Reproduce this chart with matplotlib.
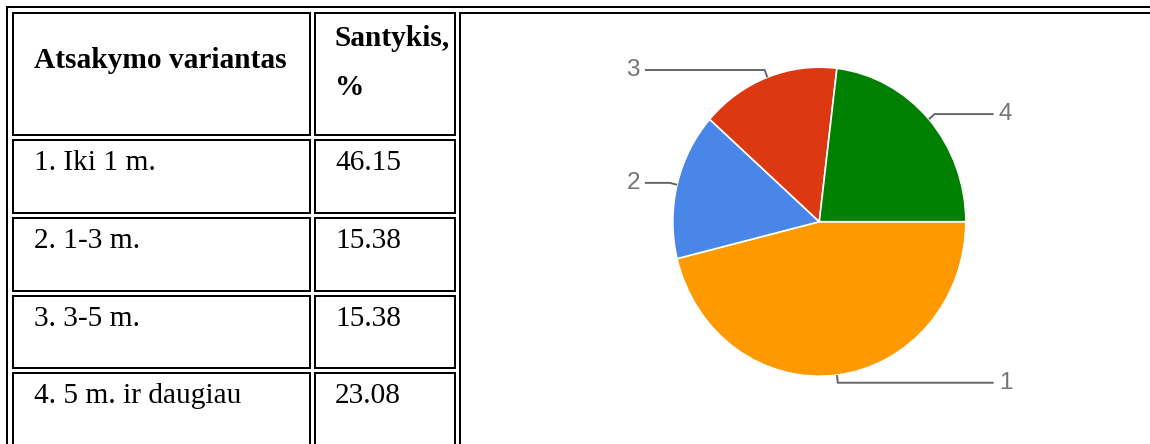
import numpy as np
import matplotlib
matplotlib.use("Agg")
import matplotlib.pyplot as plt

# data
header = ["Atsakymo variantas", "Santykis,", "%"]
options = ["1. Iki 1 m.", "2. 1-3 m.", "3. 3-5 m.", "4. 5 m. ir daugiau"]
shares = [46.15, 15.38, 15.38, 23.08]
slice_labels = ["1", "2", "3", "4"]
slice_colors = ["#ff9900", "#4a86e8", "#dc3912", "#008000"]

W, H = 1150, 444
fig = plt.figure(figsize=(W / 100, H / 100), dpi=100)

# table drawn in pixel coordinates
tab = fig.add_axes([0, 0, 1, 1])
tab.set_xlim(0, W)
tab.set_ylim(H, 0)
tab.axis("off")

lw = 2 * 72 / 100
serif = ["Liberation Serif", "DejaVu Serif"]


def line(xs, ys):
    tab.plot(xs, ys, color="black", lw=lw, solid_capstyle="projecting",
             solid_joinstyle="miter")


def box(x0, y0, x1, y1):
    line([x0, x1, x1, x0, x0], [y0, y0, y1, y1, y0])


# outer table border
line([7, 7, W + 10], [H + 10, 7, 7])

# cells
row_top = [13, 140, 218, 296, 373]
row_bot = [135, 213, 291, 368, H + 10]
for t, b in zip(row_top, row_bot):
    box(13, t, 310, b)
    box(315, t, 455, b)
# chart cell
line([460, 460], [H + 10, 13])
line([460, W + 10], [13, 13])

# header text
tab.text(34, 67.5, header[0], fontfamily=serif, fontsize=21.2, fontweight="bold")
tab.text(335, 45.5, header[1], fontfamily=serif, fontsize=21.2, fontweight="bold")
tab.text(335, 95, header[2], fontfamily=serif, fontsize=21.2, fontweight="bold")

# rows
for i, (opt, val) in enumerate(zip(options, shares)):
    base = row_top[i + 1] + 30
    tab.text(34, base, opt, fontfamily=serif, fontsize=21.2)
    tab.text(335, base, f"{val:.2f}", fontfamily=serif, fontsize=21.2)

# pie chart (slightly stretched vertically like the reference)
cx, cy, rx, ry = 819.3, 221.7, 146.5, 154.5
px0, py0 = 462, 15
pa = fig.add_axes([px0 / W, 0, (W - px0) / W, (H - py0) / H])
wedges, _ = pa.pie(shares, colors=slice_colors, startangle=0, counterclock=False,
                   wedgeprops=dict(edgecolor="white", linewidth=1.2))
pa.set_aspect("auto")
pa.set_xlim((px0 - cx) / rx, (W - cx) / rx)
pa.set_ylim((cy - H) / ry, (cy - py0) / ry)
pa.axis("off")

for w, lab in zip(wedges, slice_labels):
    ang = np.deg2rad((w.theta1 + w.theta2) / 2)
    c, s = np.cos(ang), np.sin(ang)
    side = 1 if c >= 0 else -1
    x1, y1 = 1.05 * c, 1.05 * s
    x2 = side * 1.19
    pa.plot([c, x1, x2], [s, y1, y1], color="#666666", lw=1.4,
            solid_capstyle="butt", clip_on=False)
    pa.text(side * 1.225, y1, lab, ha="left" if side > 0 else "right", va="center",
            fontfamily=["Liberation Sans", "DejaVu Sans"], fontsize=17.5,
            color="#757575", clip_on=False)

fig.savefig("out.png", dpi=100)
